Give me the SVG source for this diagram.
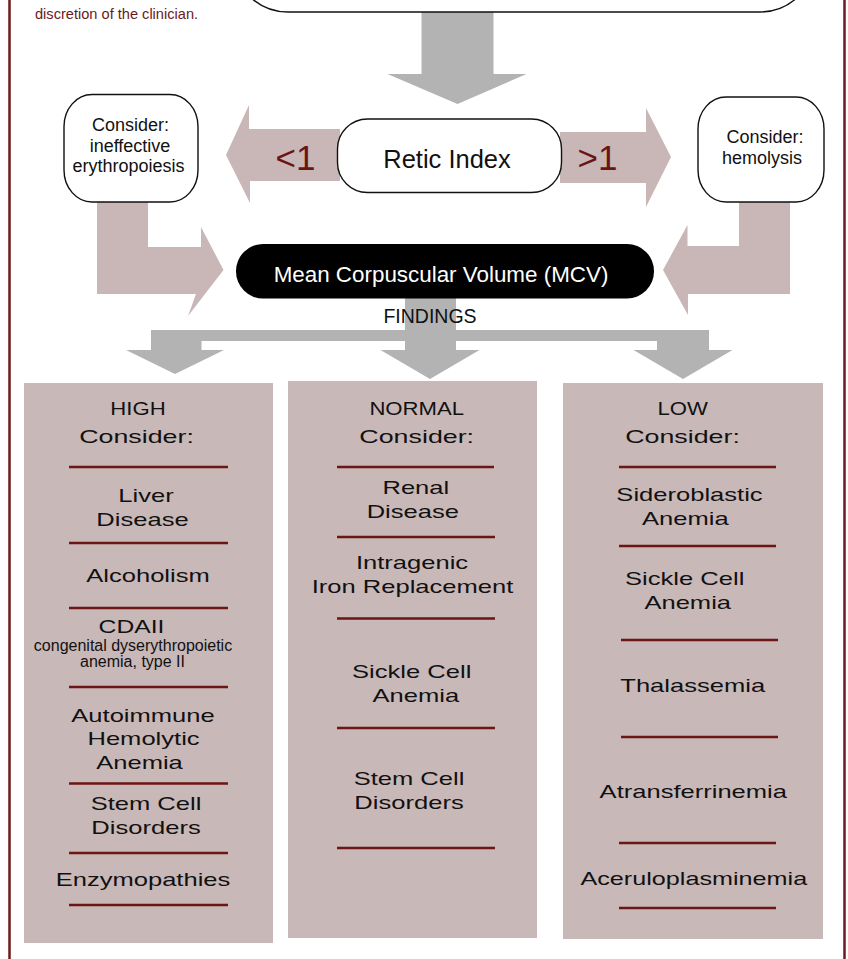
<svg xmlns="http://www.w3.org/2000/svg" width="848" height="959" viewBox="0 0 848 959">
<style>
text{font-family:"Liberation Sans",Arial,sans-serif;text-anchor:middle;fill:#111}
.note{font-size:14.6px;fill:#6b1a1a;text-anchor:start}
.rbox{fill:#fff;stroke:#111;stroke-width:1.4}
.cons{font-size:18px}
.big{font-size:25.5px}
.num{font-size:35px;fill:#6b1414}
.mcv{font-size:22.4px;fill:#fff}
.find{font-size:19.5px}
.col{fill:#c9b8b8}
.hd{font-size:18px}
.it{font-size:18px}
.sm{font-size:16px}
.div{stroke:#6b1515;stroke-width:2.6}
.pink{fill:#c9b6b6}
.gray{fill:#b3b3b3}
</style>
<rect x="9.5" y="-20" width="835" height="1000" fill="none" stroke="#6b1b1b" stroke-width="2.5"/>
<text class="note" x="35" y="18.5">discretion of the clinician.</text>

<g id="connectors">
  <path class="gray" d="M421.5,11 H493.5 V74 H526.5 L457.5,104 L387.5,74 H421.5 Z"/>
  <path class="pink" d="M340,129 H249 V105 L226,155 L250,203 V181 H340 Z"/>
  <path class="pink" d="M560,132 H646 V108 L671,157 L646,207 V183 H560 Z"/>
  <path class="pink" d="M97,200 H148 V247 H201 V227 L223.5,270 L188,316 L196,294 H97 Z"/>
  <path class="pink" d="M739,200 H790 V294 H688 V315 L663,270 L687.5,225 V246 H739 Z"/>
  <path class="gray" d="M405,296 H456 V330 H709 V350 H732.5 L683,379 L633.5,350 H657 V341 H456 V350 H479.5 L430,379 L380.5,350 H405 V341 H201.5 V350 H224 L175,374 L126,350 H151 V330 H405 Z"/>
</g>

<g id="top-box">
  <rect class="rbox" x="233" y="-100" width="582" height="112" rx="55"/>
</g>

<g id="ineffective">
  <rect class="rbox" x="64" y="94.5" width="134" height="107.5" rx="28" ry="32"/>
  <text class="cons" x="130.5" y="131">Consider:</text>
  <text class="cons" x="130" y="151.5">ineffective</text>
  <text class="cons" x="128.5" y="172">erythropoiesis</text>
</g>

<g id="retic">
  <rect class="rbox" x="337.5" y="119" width="224" height="73.5" rx="30"/>
  <text class="big" x="447" y="168">Retic Index</text>
</g>
<text class="num" x="295.5" y="170">&lt;1</text>
<text class="num" x="597.5" y="169.5">&gt;1</text>

<g id="hemolysis">
  <rect class="rbox" x="698" y="97" width="126" height="105" rx="28" ry="32"/>
  <text class="cons" x="765" y="143">Consider:</text>
  <text class="cons" x="762" y="163.5">hemolysis</text>
</g>

<g id="mcv">
  <rect x="236" y="244" width="418" height="54.5" rx="27" fill="#000"/>
  <text class="mcv" x="441" y="281.5">Mean Corpuscular Volume (MCV)</text>
</g>
<text class="find" x="430" y="323">FINDINGS</text>

<g id="high">
  <rect class="col" x="24" y="383" width="249" height="560"/>
  <text class="hd" transform="translate(138,415) scale(1.23,1)">HIGH</text>
  <text class="hd" transform="translate(136.5,443) scale(1.49,1)">Consider:</text>
  <line class="div" x1="69" y1="467" x2="228" y2="467"/>
  <text class="it" transform="translate(146,501.5) scale(1.42,1)">Liver</text>
  <text class="it" transform="translate(142.5,525.5) scale(1.42,1)">Disease</text>
  <line class="div" x1="69" y1="543" x2="228" y2="543"/>
  <text class="it" transform="translate(148,581.5) scale(1.42,1)">Alcoholism</text>
  <line class="div" x1="69" y1="608" x2="228" y2="608"/>
  <text class="it" transform="translate(131.5,632.5) scale(1.37,1)">CDAII</text>
  <text class="sm" x="133" y="650.5">congenital dyserythropoietic</text>
  <text class="sm" x="132.5" y="667">anemia, type II</text>
  <line class="div" x1="69" y1="687" x2="228" y2="687"/>
  <text class="it" transform="translate(143,721.5) scale(1.42,1)">Autoimmune</text>
  <text class="it" transform="translate(143.5,745) scale(1.42,1)">Hemolytic</text>
  <text class="it" transform="translate(139.5,769) scale(1.42,1)">Anemia</text>
  <line class="div" x1="69" y1="783.5" x2="228" y2="783.5"/>
  <text class="it" transform="translate(146,810) scale(1.42,1)">Stem Cell</text>
  <text class="it" transform="translate(146,834) scale(1.42,1)">Disorders</text>
  <line class="div" x1="69" y1="853" x2="228" y2="853"/>
  <text class="it" transform="translate(143,885.5) scale(1.42,1)">Enzymopathies</text>
  <line class="div" x1="69" y1="905" x2="228" y2="905"/>
</g>

<g id="normal">
  <rect class="col" x="288" y="381" width="249" height="557"/>
  <text class="hd" transform="translate(416.7,415) scale(1.23,1)">NORMAL</text>
  <text class="hd" transform="translate(416.7,443) scale(1.49,1)">Consider:</text>
  <line class="div" x1="337" y1="467" x2="494" y2="467"/>
  <text class="it" transform="translate(415.8,494) scale(1.42,1)">Renal</text>
  <text class="it" transform="translate(412.8,518) scale(1.42,1)">Disease</text>
  <line class="div" x1="337" y1="537" x2="495" y2="537"/>
  <text class="it" transform="translate(412,569) scale(1.42,1)">Intragenic</text>
  <text class="it" transform="translate(412.5,593) scale(1.42,1)">Iron Replacement</text>
  <line class="div" x1="337" y1="618.5" x2="495" y2="618.5"/>
  <text class="it" transform="translate(411.7,677.5) scale(1.42,1)">Sickle Cell</text>
  <text class="it" transform="translate(415.8,701.5) scale(1.42,1)">Anemia</text>
  <line class="div" x1="337" y1="728" x2="495" y2="728"/>
  <text class="it" transform="translate(409,785) scale(1.42,1)">Stem Cell</text>
  <text class="it" transform="translate(409,808.5) scale(1.42,1)">Disorders</text>
  <line class="div" x1="337" y1="848" x2="495" y2="848"/>
</g>

<g id="low">
  <rect class="col" x="563" y="383" width="260" height="556"/>
  <text class="hd" transform="translate(682.7,415) scale(1.23,1)">LOW</text>
  <text class="hd" transform="translate(682.5,443) scale(1.49,1)">Consider:</text>
  <line class="div" x1="619" y1="467" x2="776" y2="467"/>
  <text class="it" transform="translate(689.5,500.7) scale(1.42,1)">Sideroblastic</text>
  <text class="it" transform="translate(685.3,525) scale(1.42,1)">Anemia</text>
  <line class="div" x1="619" y1="546" x2="776" y2="546"/>
  <text class="it" transform="translate(684.7,585) scale(1.42,1)">Sickle Cell</text>
  <text class="it" transform="translate(687.7,609.3) scale(1.42,1)">Anemia</text>
  <line class="div" x1="621" y1="640" x2="778" y2="640"/>
  <text class="it" transform="translate(692.7,691.5) scale(1.42,1)">Thalassemia</text>
  <line class="div" x1="621" y1="737" x2="778" y2="737"/>
  <text class="it" transform="translate(693.3,798) scale(1.42,1)">Atransferrinemia</text>
  <line class="div" x1="619" y1="843" x2="776" y2="843"/>
  <text class="it" transform="translate(693.8,885) scale(1.4,1)">Aceruloplasminemia</text>
  <line class="div" x1="619" y1="908" x2="776" y2="908"/>
</g>
</svg>
